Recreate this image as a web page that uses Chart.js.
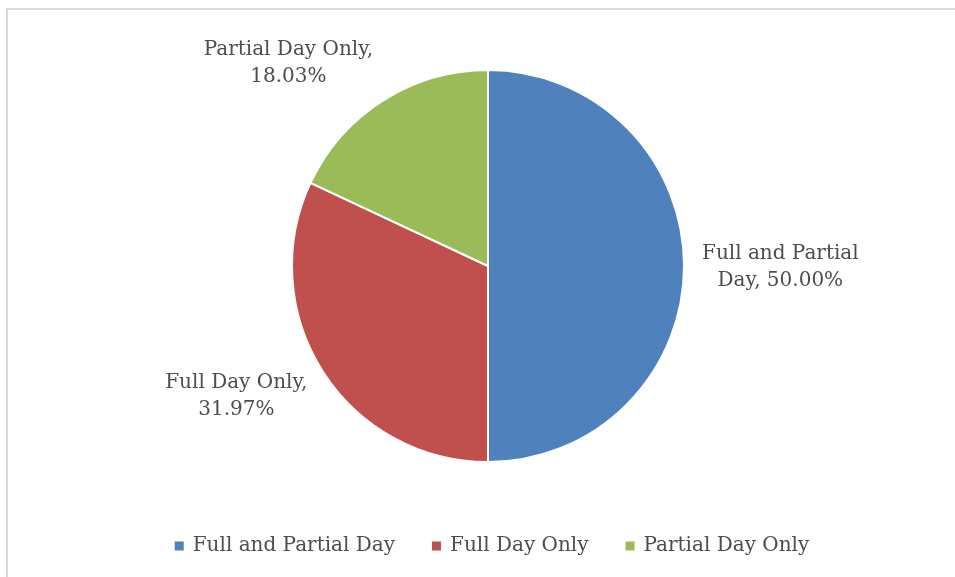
<!DOCTYPE html>
<html>
<head>
<meta charset="utf-8">
<script src="https://cdn.jsdelivr.net/npm/chart.js@4/dist/chart.umd.min.js"></script>
<style>
    html, body { margin: 0; padding: 0; background: #fff; overflow: hidden; }
    .frame {
        position: absolute; left: 6px; top: 8px;
        width: 960px; height: 580px;
        border: 2px solid #d9d9d9;
        background: #fff;
    }
    canvas { display: block; }
</style>
</head>
<body>
<div class="frame">
    <canvas id="pieChart" width="960" height="567"></canvas>
</div>
<script>
// Dados do gráfico
const categories = ['Full and Partial Day', 'Full Day Only', 'Partial Day Only'];
const shares = [50.00, 31.97, 18.03];
const colors = ['#4f81bd', '#c0504d', '#9bbb59'];

const fontFamily = '"DejaVu Serif", serif';
const fontSize = 20;
const textColor = '#4d4d4d';

// quebra de linha simples por largura
function wrapText(ctx, text, maxWidth) {
    const words = text.split(' ');
    const lines = [];
    let line = '';
    words.forEach(function(w) {
        const test = line ? line + ' ' + w : w;
        if (line && ctx.measureText(test).width > maxWidth) {
            lines.push(line);
            line = w;
        } else {
            line = test;
        }
    });
    if (line) lines.push(line);
    return lines;
}

// Rótulos fora das fatias
const outsideLabels = {
    id: 'outsideLabels',
    afterDatasetsDraw(chart) {
        const ctx = chart.ctx;
        const meta = chart.getDatasetMeta(0);
        ctx.save();
        ctx.font = fontSize + 'px ' + fontFamily;
        ctx.fillStyle = textColor;
        ctx.textBaseline = 'middle';
        ctx.textAlign = 'center';
        const lineH = 27;
        meta.data.forEach(function(arc, i) {
            const mid = (arc.startAngle + arc.endAngle) / 2;
            const r = arc.outerRadius + 18;
            const ax = arc.x + Math.cos(mid) * r;
            const ay = arc.y + Math.sin(mid) * r;
            const text = categories[i] + ', ' + shares[i].toFixed(2) + '%';
            const lines = wrapText(ctx, text, 180);
            let w = 0;
            lines.forEach(function(l) { w = Math.max(w, ctx.measureText(l).width); });
            const h = lines.length * lineH;
            const cos = Math.cos(mid), sin = Math.sin(mid);
            let cx;
            if (Math.abs(cos) < 0.05) cx = ax;
            else cx = cos > 0 ? ax + w / 2 : ax - w / 2;
            const cy = ay + sin * h / 2 + 1;
            lines.forEach(function(l, k) {
                ctx.fillText(l, cx, cy - h / 2 + lineH / 2 + k * lineH);
            });
        });
        ctx.restore();
    }
};

// Legenda desenhada à mão
const bottomLegend = {
    id: 'bottomLegend',
    afterDraw(chart) {
        const ctx = chart.ctx;
        ctx.save();
        ctx.font = fontSize + 'px ' + fontFamily;
        ctx.textBaseline = 'middle';
        ctx.textAlign = 'left';
        const box = 9, gap = 9, itemGap = 37;
        const widths = categories.map(function(c) { return box + gap + ctx.measureText(c).width; });
        const total = widths.reduce(function(a, b) { return a + b; }, 0) + itemGap * (categories.length - 1);
        let x = chart.width / 2 + 4 - total / 2;
        const y = 536;
        categories.forEach(function(c, i) {
            ctx.fillStyle = colors[i];
            ctx.fillRect(x, y - box / 2, box, box);
            ctx.fillStyle = textColor;
            ctx.fillText(c, x + box + gap, y);
            x += widths[i] + itemGap;
        });
        ctx.restore();
    }
};

const ctx = document.getElementById('pieChart').getContext('2d');
const pieChart = new Chart(ctx, {
    type: 'pie',
    data: {
        labels: categories,
        datasets: [{
            data: shares,
            backgroundColor: colors,
            borderColor: '#ffffff',
            borderWidth: 2
        }]
    },
    options: {
        responsive: false,
        animation: false,
        layout: { padding: { top: 59, bottom: 114, left: 0, right: 0 } },
        plugins: {
            legend: { display: false },
            tooltip: { enabled: false }
        }
    },
    plugins: [outsideLabels, bottomLegend]
});
</script>
</body>
</html>
